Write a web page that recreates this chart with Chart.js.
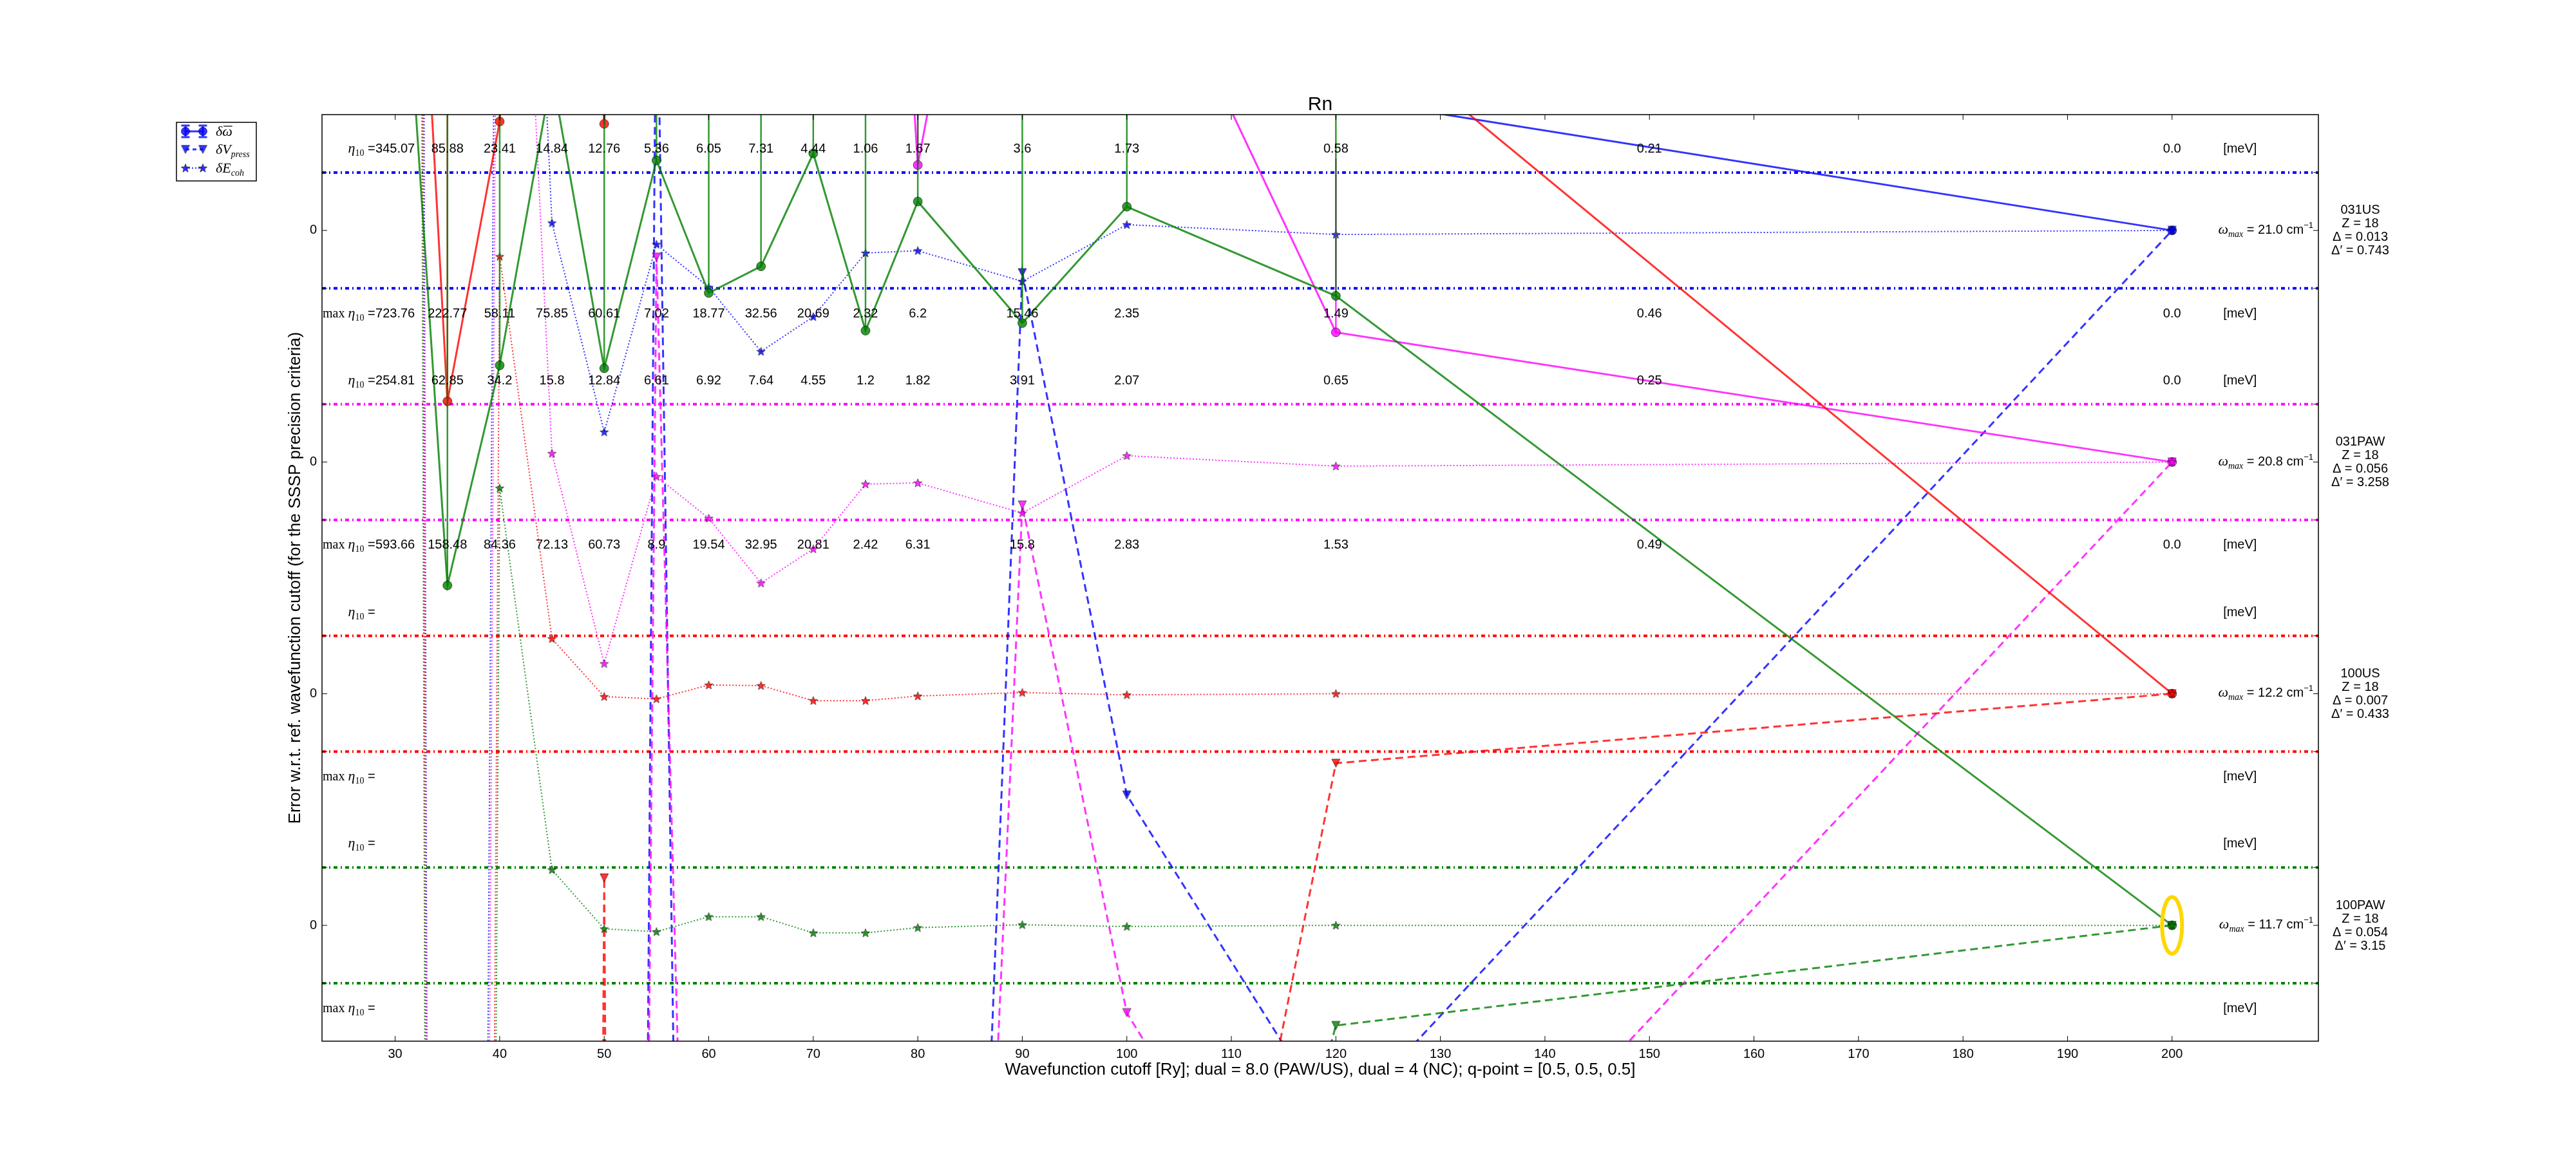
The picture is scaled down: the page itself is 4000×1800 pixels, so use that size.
<!DOCTYPE html>
<html><head><meta charset="utf-8">
<script src="https://cdn.jsdelivr.net/npm/chart.js@4/dist/chart.umd.min.js"></script>
<style>html,body{margin:0;padding:0;background:#fff}canvas{display:block}</style>
</head><body>
<canvas id="c" width="4000" height="1800" style="width:4000px;height:1800px"></canvas>
<script>
// ---------------- data ----------------
const cutoffs = [30, 35, 40, 45, 50, 55, 60, 65, 70, 75, 80, 90, 100, 120, 200];
const textCutoffs = [30, 35, 40, 45, 50, 55, 60, 65, 70, 75, 80, 90, 100, 120, 150, 200];
const xTickValues = [30, 40, 50, 60, 70, 80, 90, 100, 110, 120, 130, 140, 150, 160, 170, 180, 190, 200];
const pseudoNames = ['031US', '031PAW', '100US', '100PAW'];
const panelOffsets = [0, -4, -8, -12];
const omegaMax = ['21.0', '20.8', '12.2', '11.7'];
const zValues = ['18', '18', '18', '18'];
const deltaValues = ['0.013', '0.056', '0.007', '0.054'];
const deltaPrimeValues = ['0.743', '3.258', '0.433', '3.15'];

// 031US
const dOmega_031US    = [25, 20, 18, 15, 14, 12, 12, 11, 12, 10, 10, 12, 14, 2.30, 0];
const dOmegaErr_031US = [3, 3, 3, 3, 3, 3, 3, 3, 3, 3, 3, 3, 3, 3, 0];
const dVpress_031US   = [-120, -120, -120, -120, -114, 5.5, -55, -60, -52, -50, -46, -0.73, -9.75, -15.5, 0];
const dEcoh_031US     = [165, -130, 19.6, 0.13, -3.48, -0.24, -0.98, -2.09, -1.49, -0.39, -0.35, -0.88, 0.10, -0.07, 0];
// 031PAW
const dOmega_031PAW    = [25, 20, 18, 16, 14, 12, 13, 12, 14, 19.5, 5.13, 14.7, 9.88, 2.24, 0];
const dOmegaErr_031PAW = [3, 3, 3, 3, 3, 3, 3, 3, 3, 3, 3, 3, 3, 3, 0];
const dVpress_031PAW   = [-100, -100, -100, -100, -92, 3.54, -30, -35, -38, -40, -40.8, -0.74, -9.51, -15.4, 0];
const dEcoh_031PAW     = [165, -130, 18.75, 0.15, -3.48, -0.25, -0.97, -2.09, -1.50, -0.38, -0.36, -0.88, 0.11, -0.07, 0];
// 100US
const dOmega_100US    = [21.8, 5.05, 9.88, 30, 9.84, 30, 25, 22, 20, 18, 18, 16, 14, 11.9, 0];
const dOmegaErr_100US = [3, 8, 3, 3, 3, 3, 3, 3, 3, 3, 3, 3, 3, 3, 0];
const dVpress_100US   = [-150, -150, -150, -150, -3.18, -150, -40, -30, -30, -30, -30, -30, -19.2, -1.20, 0];
const dEcoh_100US     = [165, -130, 7.55, 0.95, -0.05, -0.09, 0.15, 0.14, -0.12, -0.12, -0.04, 0.02, -0.02, 0.0, 0];
// 100PAW
const dOmega_100PAW    = [19.4, 5.87, 9.67, 14.7, 9.62, 13.21, 10.92, 11.38, 13.33, 10.27, 12.5, 10.4, 12.41, 10.87, 0];
const dOmegaErr_100PAW = [5, 12, 8, 5, 8, 3, 6, 5, 3, 6, 4, 6, 4, 4, 0];
const dVpress_100PAW   = [-100, -100, -100, -100, -100, -100, -100, -100, -100, -100, -100, -100, -15, -1.73, 0];
const dEcoh_100PAW     = [165, -130, 7.55, 0.96, -0.06, -0.11, 0.15, 0.15, -0.13, -0.13, -0.04, 0.01, -0.02, 0.0, 0];

// text rows (eta10 and max eta10), per textCutoffs
const eta10_031US    = ['345.07','85.88','23.41','14.84','12.76','5.36','6.05','7.31','4.44','1.06','1.67','3.6','1.73','0.58','0.21','0.0'];
const maxEta10_031US = ['723.76','222.77','58.11','75.85','60.61','7.02','18.77','32.56','20.69','2.32','6.2','15.46','2.35','1.49','0.46','0.0'];
const eta10_031PAW    = ['254.81','62.85','34.2','15.8','12.84','6.61','6.92','7.64','4.55','1.2','1.82','3.91','2.07','0.65','0.25','0.0'];
const maxEta10_031PAW = ['593.66','158.48','84.36','72.13','60.73','8.9','19.54','32.95','20.81','2.42','6.31','15.8','2.83','1.53','0.49','0.0'];
const eta10_100US = [];
const maxEta10_100US = [];
const eta10_100PAW = [];
const maxEta10_100PAW = [];

// ---------------- styles ----------------
const SANS = '"Liberation Sans", Arial, Helvetica, sans-serif';
const SERIF = '"Liberation Serif", "DejaVu Serif", serif';
const lineColors = ['rgba(0,0,255,0.8)', 'rgba(255,0,255,0.8)', 'rgba(255,0,0,0.8)', 'rgba(0,128,0,0.8)'];
const bandColors = ['#0000ff', '#ff00ff', '#ff0000', '#008000'];
const EDGE = 'rgba(0,0,0,0.55)';

const series = [
  {om: dOmega_031US, err: dOmegaErr_031US, vp: dVpress_031US, ec: dEcoh_031US},
  {om: dOmega_031PAW, err: dOmegaErr_031PAW, vp: dVpress_031PAW, ec: dEcoh_031PAW},
  {om: dOmega_100US, err: dOmegaErr_100US, vp: dVpress_100US, ec: dEcoh_100US},
  {om: dOmega_100PAW, err: dOmegaErr_100PAW, vp: dVpress_100PAW, ec: dEcoh_100PAW},
];
const etaRows = [
  [eta10_031US, maxEta10_031US], [eta10_031PAW, maxEta10_031PAW],
  [eta10_100US, maxEta10_100US], [eta10_100PAW, maxEta10_100PAW]
];

function makeStar(fill, size) {
  const c = document.createElement('canvas'); c.width = size; c.height = size;
  const g = c.getContext('2d'); const R = size / 2 - 1, r = R * 0.42, cx = size / 2, cy = size / 2 + 0.5;
  g.beginPath();
  for (let i = 0; i < 10; i++) {
    const a = -Math.PI / 2 + i * Math.PI / 5, rr = i % 2 ? r : R;
    const px = cx + rr * Math.cos(a), py = cy + rr * Math.sin(a);
    i ? g.lineTo(px, py) : g.moveTo(px, py);
  }
  g.closePath(); g.fillStyle = fill; g.fill(); g.strokeStyle = EDGE; g.lineWidth = 1; g.stroke();
  return c;
}
function makeTri(fill, size) {
  const c = document.createElement('canvas'); c.width = size; c.height = size;
  const g = c.getContext('2d'); const h = size - 2;
  g.beginPath(); g.moveTo(1, 1); g.lineTo(size - 1, 1); g.lineTo(size / 2, 1 + h); g.closePath();
  g.fillStyle = fill; g.fill(); g.strokeStyle = EDGE; g.lineWidth = 1; g.stroke();
  return c;
}
const starImgs = lineColors.map(c => makeStar(c, 16));
const triImgs = lineColors.map(c => makeTri(c, 15));

function pts(vals, off) { return cutoffs.map((c, i) => ({x: c, y: vals[i] + off})); }
function errPts(vals, errs, off) {
  const d = [];
  cutoffs.forEach((c, i) => { if (errs[i] > 0) { d.push({x: c, y: vals[i] + off}); d.push({x: c, y: vals[i] + errs[i] + off}); d.push({x: c, y: null}); } });
  return d;
}

const datasets = [];
series.forEach((s, k) => {
  const off = panelOffsets[k], col = lineColors[k];
  datasets.push({data: errPts(s.om, s.err, off), showLine: true, borderColor: col, borderWidth: 2.5, pointRadius: 0, spanGaps: false, clip: 0});
  datasets.push({data: pts(s.om, off), showLine: true, borderColor: col, borderWidth: 3, pointRadius: 7, pointStyle: 'circle', pointBackgroundColor: col, pointBorderColor: EDGE, pointBorderWidth: 1, clip: 0});
  datasets.push({data: pts(s.vp, off), showLine: true, borderColor: col, borderWidth: 3, borderDash: [12, 7], pointRadius: 7, pointStyle: triImgs[k], clip: 0});
  datasets.push({data: pts(s.ec, off), showLine: true, borderColor: col, borderWidth: 2, borderDash: [2, 3], pointRadius: 7, pointStyle: starImgs[k], clip: 0});
});
const N = datasets.length;
datasets.forEach((d, i) => { d.order = N - i; d.tension = 0; d.pointHoverRadius = d.pointRadius; });

// ---------------- helpers ----------------
function runs(ctx, parts, x, y, align) {
  let w = 0;
  parts.forEach(p => { ctx.font = p.f; p.w = ctx.measureText(p.t).width; w += p.w; });
  let cx = align === 'right' ? x - w : (align === 'center' ? x - w / 2 : x);
  ctx.textAlign = 'left'; ctx.textBaseline = 'alphabetic';
  parts.forEach(p => { ctx.font = p.f; ctx.fillText(p.t, cx, y + (p.dy || 0)); cx += p.w; });
  return w;
}

const annot = {
  id: 'annot',
  beforeDatasetsDraw(chart) {
    const {ctx, chartArea: a, scales: {y}} = chart;
    ctx.save();
    ctx.beginPath(); ctx.rect(a.left, a.top, a.right - a.left, a.bottom - a.top); ctx.clip();
    panelOffsets.forEach((off, k) => {
      ctx.strokeStyle = bandColors[k]; ctx.lineWidth = 4; ctx.setLineDash([6, 5, 2, 5]);
      [off + 1, off - 1].forEach(v => {
        const py = y.getPixelForValue(v);
        ctx.beginPath(); ctx.moveTo(a.left, py); ctx.lineTo(a.right, py); ctx.stroke();
      });
    });
    ctx.restore();
  },
  afterDatasetsDraw(chart) {
    const {ctx, chartArea: a, scales: {x, y}} = chart;
    ctx.save();
    ctx.fillStyle = '#000';
    const x30 = x.getPixelForValue(30);
    panelOffsets.forEach((off, k) => {
      const rows = etaRows[k];
      [off + 1.42, off - 1.42].forEach((v, r) => {
        const py = y.getPixelForValue(v) + 7;
        const pre = [];
        if (r === 1) pre.push({t: 'max ', f: `20px ${SERIF}`});
        pre.push({t: 'η', f: `italic 22px ${SERIF}`});
        pre.push({t: '10', f: `14px ${SERIF}`, dy: 5});
        pre.push({t: ' =', f: `20px ${SANS}`});
        runs(ctx, pre, x30 - 31, py, 'right');
        ctx.font = `20px ${SANS}`; ctx.textAlign = 'center';
        rows[r].forEach((t, i) => { ctx.fillText(t, x.getPixelForValue(textCutoffs[i]), py); });
        ctx.fillText('[meV]', x.getPixelForValue(206.5), py);
      });
      // omega max
      const pc = y.getPixelForValue(off);
      runs(ctx, [
        {t: 'ω', f: `italic 22px ${SERIF}`},
        {t: 'max', f: `italic 14px ${SERIF}`, dy: 5},
        {t: ' = ' + omegaMax[k] + ' cm', f: `20px ${SANS}`},
        {t: '−1', f: `13px ${SANS}`, dy: -9}
      ], a.right - 8, pc + 5, 'right');
      // right block
      ctx.font = `20px ${SANS}`; ctx.textAlign = 'center'; ctx.textBaseline = 'middle';
      const bx = 3665;
      ctx.fillText(pseudoNames[k], bx, pc - 31);
      ctx.fillText('Z = ' + zValues[k], bx, pc - 10);
      ctx.fillText('Δ = ' + deltaValues[k], bx, pc + 11);
      ctx.fillText('Δ′ = ' + deltaPrimeValues[k], bx, pc + 32);
    });
    // yellow ellipse around the reference point of the last panel
    ctx.strokeStyle = '#ffd700'; ctx.lineWidth = 6;
    ctx.beginPath();
    ctx.ellipse(x.getPixelForValue(200), y.getPixelForValue(panelOffsets[3]), 15.5, 44, 0, 0, Math.PI * 2);
    ctx.stroke();
    ctx.restore();
  },
  afterDraw(chart) {
    const {ctx, chartArea: a, scales: {x, y}} = chart;
    ctx.save();
    // spines
    ctx.strokeStyle = '#000'; ctx.lineWidth = 1.5; ctx.setLineDash([]);
    ctx.strokeRect(a.left, a.top, a.right - a.left, a.bottom - a.top);
    // ticks (inward)
    ctx.lineWidth = 1;
    ctx.beginPath();
    xTickValues.forEach(v => {
      const px = x.getPixelForValue(v);
      ctx.moveTo(px, a.bottom); ctx.lineTo(px, a.bottom - 8);
      ctx.moveTo(px, a.top); ctx.lineTo(px, a.top + 8);
    });
    panelOffsets.forEach(off => {
      [off - 1, off, off + 1].forEach(v => {
        const py = y.getPixelForValue(v);
        ctx.moveTo(a.left, py); ctx.lineTo(a.left + 8, py);
        ctx.moveTo(a.right, py); ctx.lineTo(a.right - 8, py);
      });
    });
    ctx.stroke();
    // title and axis labels
    ctx.fillStyle = '#000';
    ctx.font = `30px ${SANS}`; ctx.textAlign = 'center'; ctx.textBaseline = 'alphabetic';
    ctx.fillText('Rn', (a.left + a.right) / 2, 171);
    ctx.font = `26px ${SANS}`; ctx.textBaseline = 'middle';
    ctx.fillText('Wavefunction cutoff [Ry]; dual = 8.0 (PAW/US), dual = 4 (NC); q-point = [0.5, 0.5, 0.5]', (a.left + a.right) / 2, 1662);
    ctx.save();
    ctx.translate(459, (a.top + a.bottom) / 2); ctx.rotate(-Math.PI / 2);
    ctx.fillText('Error w.r.t. ref. wavefunction cutoff (for the SSSP precision criteria)', 0, 0);
    ctx.restore();
    // legend
    const L = 274, T = 190, W = 124, H = 91;
    ctx.fillStyle = '#fff'; ctx.fillRect(L, T, W, H);
    ctx.strokeStyle = '#000'; ctx.lineWidth = 1.5; ctx.strokeRect(L, T, W, H);
    const blue = lineColors[0];
    const mx1 = 288, mx2 = 315;
    // row 1: errorbar circles
    let ry = 204;
    ctx.strokeStyle = blue; ctx.lineWidth = 3;
    ctx.beginPath(); ctx.moveTo(mx1, ry); ctx.lineTo(mx2, ry); ctx.stroke();
    [mx1, mx2].forEach(mx => {
      ctx.beginPath(); ctx.moveTo(mx, ry - 9); ctx.lineTo(mx, ry + 9);
      ctx.moveTo(mx - 6.5, ry - 9); ctx.lineTo(mx + 6.5, ry - 9);
      ctx.moveTo(mx - 6.5, ry + 9); ctx.lineTo(mx + 6.5, ry + 9); ctx.stroke();
      ctx.beginPath(); ctx.arc(mx, ry, 6.5, 0, Math.PI * 2); ctx.fillStyle = blue; ctx.fill();
      ctx.strokeStyle = EDGE; ctx.lineWidth = 1; ctx.stroke(); ctx.strokeStyle = blue; ctx.lineWidth = 3;
    });
    // row 2: triangles dashed
    ry = 232;
    ctx.setLineDash([6, 5]); ctx.beginPath(); ctx.moveTo(mx1, ry); ctx.lineTo(mx2, ry); ctx.stroke(); ctx.setLineDash([]);
    [mx1, mx2].forEach(mx => ctx.drawImage(triImgs[0], mx - 7.5, ry - 7.5));
    // row 3: stars dotted
    ry = 261;
    ctx.lineWidth = 2; ctx.setLineDash([2, 3]); ctx.beginPath(); ctx.moveTo(mx1, ry); ctx.lineTo(mx2, ry); ctx.stroke(); ctx.setLineDash([]);
    [mx1, mx2].forEach(mx => ctx.drawImage(starImgs[0], mx - 8, ry - 8));
    // legend texts
    ctx.fillStyle = '#000';
    const tx = 335;
    ctx.font = `italic 22px ${SERIF}`;
    const wd = ctx.measureText('δ').width, ww = ctx.measureText('ω').width;
    runs(ctx, [{t: 'δω', f: `italic 22px ${SERIF}`}], tx, 211, 'left');
    ctx.strokeStyle = '#000'; ctx.lineWidth = 1.2;
    ctx.beginPath(); ctx.moveTo(tx + wd + 2, 196); ctx.lineTo(tx + wd + ww, 196); ctx.stroke();
    runs(ctx, [{t: 'δV', f: `italic 22px ${SERIF}`}, {t: 'press', f: `italic 14px ${SERIF}`, dy: 5}], tx, 239, 'left');
    runs(ctx, [{t: 'δE', f: `italic 22px ${SERIF}`}, {t: 'coh', f: `italic 14px ${SERIF}`, dy: 5}], tx, 268, 'left');
    ctx.restore();
  }
};

Chart.defaults.font.family = SANS;
Chart.defaults.color = '#000';

new Chart(document.getElementById('c'), {
  type: 'scatter',
  data: {datasets},
  options: {
    responsive: false, animation: false, devicePixelRatio: 1,
    layout: {padding: {top: 178, right: 400, bottom: 0, left: 0}},
    plugins: {legend: {display: false}, tooltip: {enabled: false}, title: {display: false}},
    events: [],
    scales: {
      x: {
        type: 'linear', min: 23, max: 214,
        afterBuildTicks: (s) => { s.ticks = xTickValues.map(v => ({value: v})); },
        afterFit: (s) => { s.height = 183; },
        ticks: {font: {size: 20}, padding: 8, maxRotation: 0, autoSkip: false, callback: (v) => String(v)},
        grid: {display: false, drawTicks: false}, border: {display: false}
      },
      y: {
        type: 'linear', min: -14, max: 2,
        afterBuildTicks: (s) => {
          const t = []; panelOffsets.forEach(o => { t.push(o - 1, o, o + 1); });
          s.ticks = t.sort((p, q) => p - q).map(v => ({value: v}));
        },
        afterFit: (s) => { s.width = 500; },
        ticks: {font: {size: 20}, padding: 8, autoSkip: false, callback: (v) => panelOffsets.includes(v) ? '0' : ''},
        grid: {display: false, drawTicks: false}, border: {display: false}
      }
    }
  },
  plugins: [annot]
});
</script>
</body></html>
